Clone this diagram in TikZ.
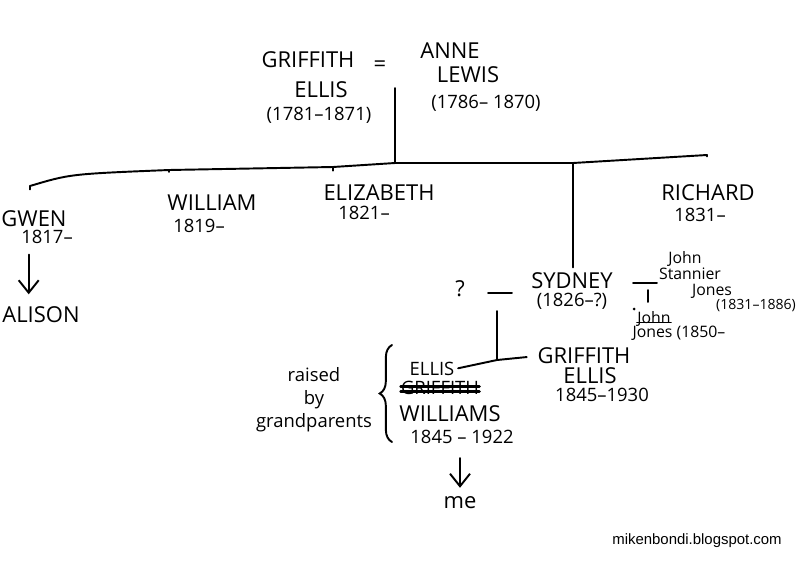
\documentclass[tikz,border=0pt]{standalone}
\usepackage{fontspec}
\setmainfont{Open Sans}
\setsansfont{Liberation Sans}
\usetikzlibrary{arrows.meta, positioning, calc, decorations.pathreplacing}
\tikzset{
    person/.style={font=\fontsize{12.5}{14}\selectfont, inner sep=0pt},
    years/.style={font=\fontsize{10.5}{12}\selectfont, inner sep=0pt},
    note/.style={font=\fontsize{10.5}{13}\selectfont, inner sep=0pt},
    tiny/.style={font=\fontsize{8}{10}\selectfont, inner sep=0pt},
    line/.style={line width=1.1pt, line cap=round},
    arrow/.style={line, -{Straight Barb[length=2.5mm, width=4mm]}},
    drop/.style={line, shorten >=#1},
    strike/.style={line width=1.6pt, line cap=round}
}

\begin{document}
\begin{tikzpicture}[x=0.02cm, y=-0.02cm]
        \useasboundingbox (0,0) rectangle (800,565);
        % Parents
        \node (griffith) [person] at (308,60) {GRIFFITH};
        \node (ellis) [person] at (321,90) {ELLIS};
        \node (ellisyrs) [years] at (319,115) {(1781--1871)};
        \node (wed) [person] at (380,66) {=};
        \node (anne) [person] at (450,51) {ANNE};
        \node (lewis) [person] at (468,75) {LEWIS};
        \node (lewisyrs) [years] at (486,103) {(1786-- 1870)};
        \coordinate (couple) at (395,88);

        % Bar of children
        \coordinate (gwenT) at (30,186);
        \coordinate (williamT) at (169,170);
        \coordinate (elizabethT) at (333,167);
        \coordinate (parentsT) at (395,163);
        \coordinate (sydneyT) at (573,163);
        \coordinate (richardT) at (707,155);
        \draw [line] (gwenT) .. controls (70,174) .. (williamT) -- (elizabethT) -- (parentsT) -- (sydneyT) -- (richardT);
        \draw [line] (couple) -- (parentsT);

        % Children
        \node (gwen) [person] at (34,219) {GWEN};
        \node (gwenyrs) [years] at (47,237) {1817--};
        \node (william) [person] at (212,203) {WILLIAM};
        \node (williamyrs) [years] at (199,226) {1819--};
        \node (elizabeth) [person] at (379,193) {ELIZABETH};
        \node (elizabethyrs) [years] at (364,213) {1821--};
        \node (richard) [person] at (708,193) {RICHARD};
        \node (richardyrs) [years] at (700,215) {1831--};
        \node (sydney) [person] at (572,281) {SYDNEY};
        \node (sydneyyrs) [years] at (572,301) {(1826--?)};
        \node (alison) [person] at (41,315) {ALISON};

        \draw [drop=12pt] (gwenT) -- (gwenT |- gwen.north);
        \draw [drop=13pt] (williamT) -- (williamT |- william.north);
        \draw [drop=8pt] (elizabethT) -- (elizabethT |- elizabeth.north);
        \draw [drop=16pt] (richardT) -- (richardT |- richard.north);
        \draw [drop=3pt] (sydneyT) -- (sydneyT |- sydney.north);
        \draw [arrow, shorten <=6pt, shorten >=7pt] ([xshift=-7pt]alison.north |- gwenyrs.south) -- ([xshift=-7pt]alison.north);

        % Sydney and the unknown partner
        \node (unknown) [person] at (460,289) {?};
        \coordinate (sydwedL) at (488,293);
        \coordinate (sydwedR) at (512,293);
        \coordinate (sydchildT) at (497,311);
        \coordinate (sydchildB) at (497,360);
        \draw [line] (sydwedL) -- (sydwedR);
        \draw [line] (sydchildT) -- (sydchildB);

        \node (ellis2) [person, font=\fontsize{10.5}{12}\selectfont] at (432,369) {ELLIS};
        \node (griffith2) [person, font=\fontsize{10.5}{12}\selectfont] at (440,388) {GRIFFITH};
        \node (williams) [person] at (450,414) {WILLIAMS};
        \node (williamsyrs) [years] at (462,437) {1845 -- 1922};
        \node (me) [person] at (460,503) {me};
        \node (griffith3) [person] at (584,356) {GRIFFITH};
        \node (ellis3) [person] at (590,376) {ELLIS};
        \node (ellis3yrs) [years] at (602,395) {1845--1930};

        \draw [line, shorten <=2pt, shorten >=6pt] (ellis2.east) -- (sydchildB) -- (griffith3.west);
        \draw [strike] ([yshift=1pt]griffith2.west) -- ([yshift=1pt]griffith2.east);
        \draw [strike] ([yshift=-2pt]griffith2.west) -- ([yshift=-2pt]griffith2.east);
        \draw [arrow, shorten <=8pt, shorten >=5pt] (williamsyrs.south -| me.north) -- (me.north);

        % Raised by grandparents
        \node (raised) [note, align=center] at (314,400) {raised\\by\\grandparents};
        \draw [line, decorate, decoration={brace, amplitude=7pt}] (392,442) -- (392,345);

        % Sydney and John Stannier Jones
        \coordinate (jonwedL) at (633,283);
        \coordinate (jonwedR) at (657,283);
        \coordinate (jonchildT) at (648,290);
        \coordinate (jonchildB) at (648,302);
        \draw [line] (jonwedL) -- (jonwedR);
        \draw [line] (jonchildT) -- (jonchildB);
        \node (john) [note, font=\fontsize{9}{11}\selectfont] at (685,259) {John};
        \node (stannier) [note, font=\fontsize{9}{11}\selectfont] at (690,274) {Stannier};
        \node (jones) [note, font=\fontsize{9}{11}\selectfont] at (712,291) {Jones};
        \node (jonesyrs) [tiny] at (756,306) {(1831--1886)};

        \node (john2) [note, font=\fontsize{9}{11}\selectfont] at (654,319) {John};
        \node (jones2) [note, font=\fontsize{9}{11}\selectfont] at (679,333) {Jones (1850--};
        \fill (634,309) circle (1.5);
        \draw [line] ([yshift=-2pt]john2.west) -- ([yshift=-2pt]john2.east);

        % Blog address
        \node (blog) [font=\sffamily\fontsize{8.5}{10}\selectfont] at (697,541) {mikenbondi.blogspot.com};
    \end{tikzpicture}
\end{document}
